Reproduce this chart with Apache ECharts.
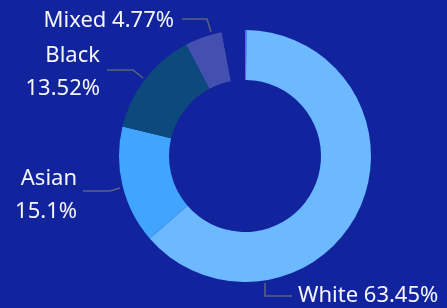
<!DOCTYPE html>
<html>
<head>
<meta charset="utf-8">
<script src="https://cdn.jsdelivr.net/npm/echarts@6/dist/echarts.min.js"></script>
<style>
  html, body { margin: 0; padding: 0; background: #12239E; }
  #chart { width: 447px; height: 308px; }
</style>
</head>
<body>
<div id="chart"></div>
<script>
// slices, clockwise from 12 o'clock
var categories = ['Other (small)', 'White', 'Asian', 'Black', 'Mixed', 'Not stated'];
var values = [0.2, 63.45, 15.1, 13.52, 4.77, 2.96];
var shownLabels = [null, 'White 63.45%', 'Asian\n15.1%', 'Black\n13.52%', 'Mixed 4.77%', null];
var colors = ['#118DFF', '#6CB9FF', '#41A5FF', '#0C4A7E', '#4450B0', '#12239E'];

// where each label sits and how its leader line runs
var labelPlace = {
  1: { x: 298, y: 296, align: 'left', line: [[265, 283], [265, 296], [292, 296]] },
  2: { x: 77, y: 195, align: 'right', line: [[120, 188], [110, 191], [83, 191]] },
  3: { x: 100, y: 72, align: 'right', line: [[143, 78], [133, 70], [107, 70]] },
  4: { x: 174, y: 21, align: 'right', line: [[211, 32], [207, 19], [182, 19]] }
};

var myChart = echarts.init(document.getElementById('chart'));
myChart.setOption({
  backgroundColor: '#12239E',
  animation: false,
  series: [{
    type: 'pie',
    center: [245, 156],
    radius: [76, 126],
    startAngle: 90,
    clockwise: true,
    avoidLabelOverlap: false,
    label: {
      show: true,
      color: '#F5F6FB',
      fontFamily: 'Segoe UI, Noto Sans, sans-serif',
      fontSize: 22,
      lineHeight: 33,
      formatter: function (p) { return shownLabels[p.dataIndex] || ''; }
    },
    labelLine: {
      show: true,
      lineStyle: { color: '#5B6284', width: 1.5 }
    },
    labelLayout: function (p) {
      var s = labelPlace[p.dataIndex];
      if (!s) return {};
      return {
        x: s.x,
        y: s.y,
        align: s.align,
        verticalAlign: 'middle',
        labelLinePoints: s.line
      };
    },
    itemStyle: { borderWidth: 0 },
    emphasis: { disabled: true },
    data: categories.map(function (c, i) {
      var d = { name: c, value: values[i], itemStyle: { color: colors[i] } };
      if (!shownLabels[i]) {
        d.label = { show: false };
        d.labelLine = { show: false };
      }
      return d;
    })
  }]
});
</script>
</body>
</html>
